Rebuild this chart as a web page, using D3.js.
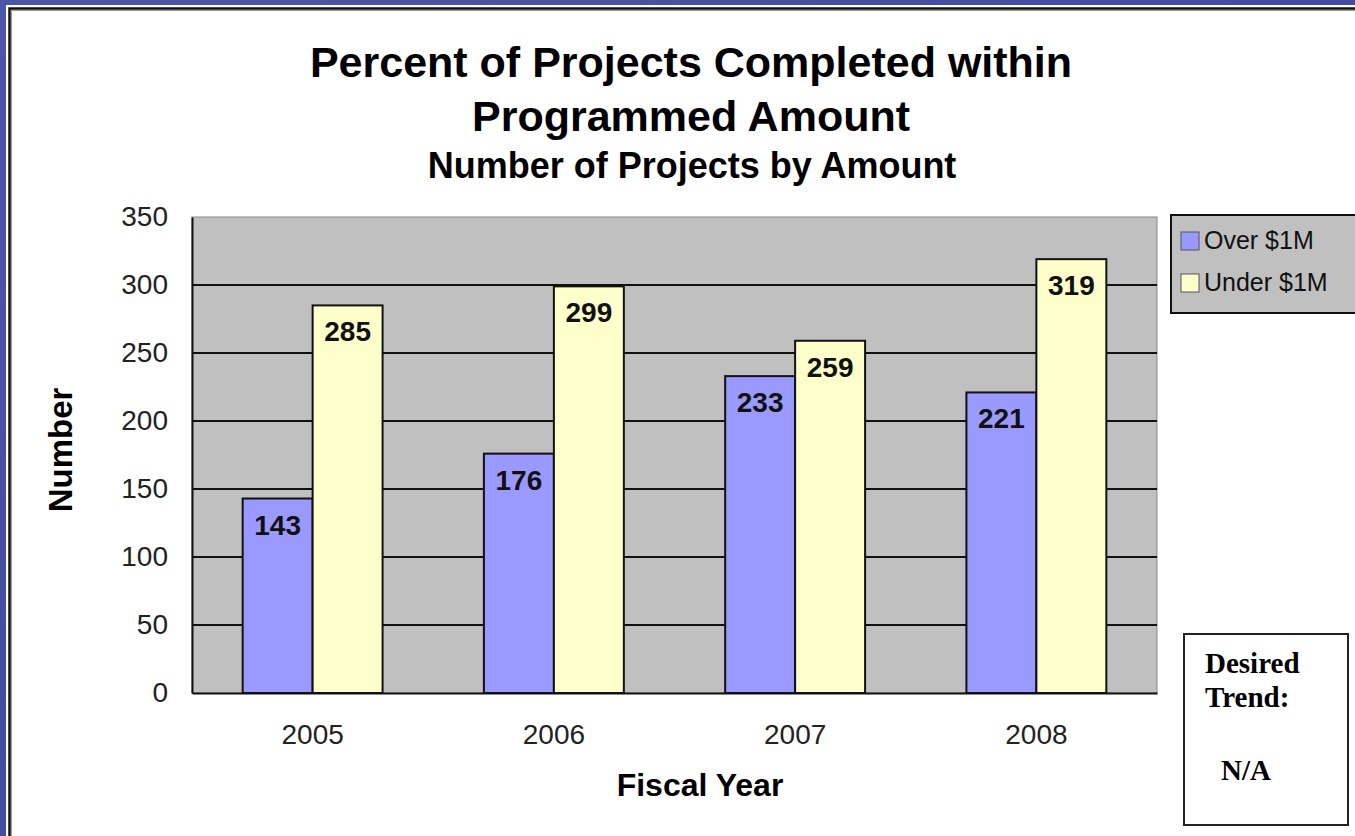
<!DOCTYPE html>
<html>
<head>
<meta charset="utf-8">
<script src="https://cdn.jsdelivr.net/npm/d3@7"></script>
<style>
  body { margin: 0; background: #fff; }
  svg { display: block; }
</style>
</head>
<body>
<div id="chart"></div>
<script>

var years = ['2005', '2006', '2007', '2008'];
var seriesNames = ['Over $1M', 'Under $1M'];
var overValues = [143, 176, 233, 221];
var underValues = [285, 299, 259, 319];
var yTicks = [0, 50, 100, 150, 200, 250, 300, 350];

var colors = ['#9999ff', '#ffffcc'];

var widthCont = 1355,
    heightCont = 836;

var margin = {top: 217, right: 198, bottom: 143, left: 192},
    width = widthCont - margin.left - margin.right,
    height = heightCont - margin.top - margin.bottom;

var sans = '"Liberation Sans", Arial, sans-serif',
    serif = '"Liberation Serif", "Times New Roman", serif';

var svg = d3.select('#chart').append('svg')
  .attr('width', widthCont)
  .attr('height', heightCont);

// Blue frame round the slide
var grad = svg.append('defs').append('linearGradient')
  .attr('id', 'frameGrad')
  .attr('x1', '0%').attr('y1', '0%').attr('x2', '100%').attr('y2', '100%');
grad.append('stop').attr('offset', '0%').attr('stop-color', '#4c55a8');
grad.append('stop').attr('offset', '100%').attr('stop-color', '#3a4499');

svg.append('rect')
  .attr('width', widthCont).attr('height', heightCont)
  .attr('fill', 'url(#frameGrad)');
svg.append('rect')
  .attr('x', 6).attr('y', 5)
  .attr('width', widthCont).attr('height', heightCont)
  .attr('fill', '#fff');
svg.append('path')
  .attr('d', 'M9.5,' + heightCont + ' V8.5 H' + widthCont)
  .attr('fill', 'none').attr('stroke', '#111').attr('stroke-width', 2.5);
svg.append('path')
  .attr('d', 'M11.5,' + heightCont + ' V10.5 H' + widthCont)
  .attr('fill', 'none').attr('stroke', '#999').attr('stroke-width', 1);

// Titles
svg.append('text')
  .attr('x', 691).attr('y', 77)
  .attr('text-anchor', 'middle')
  .style('font', 'bold 43px ' + sans)
  .text('Percent of Projects Completed within');
svg.append('text')
  .attr('x', 691).attr('y', 131)
  .attr('text-anchor', 'middle')
  .style('font', 'bold 43px ' + sans)
  .text('Programmed Amount');
svg.append('text')
  .attr('x', 692).attr('y', 178)
  .attr('text-anchor', 'middle')
  .style('font', 'bold 36px ' + sans)
  .text('Number of Projects by Amount');

var g = svg.append('g')
  .attr('transform', 'translate(' + margin.left + ',' + margin.top + ')');

var x = d3.scaleBand()
  .domain(years)
  .range([0, width])
  .paddingInner(0.42)
  .paddingOuter(0.21);

var xs = d3.scaleBand()
  .domain(seriesNames)
  .range([0, x.bandwidth()]);

var y = d3.scaleLinear()
  .domain([0, 350])
  .range([height, 0]);

// Plot area
g.append('rect')
  .attr('width', width).attr('height', height)
  .attr('fill', '#c0c0c0')
  .attr('stroke', '#8a8a8a').attr('stroke-width', 1);

// Gridlines
g.selectAll('.grid')
  .data(yTicks.filter(function(d){ return d > 0 && d < 350; }))
  .enter().append('line')
  .attr('x1', 0).attr('x2', width)
  .attr('y1', function(d){ return y(d); })
  .attr('y2', function(d){ return y(d); })
  .attr('stroke', '#111').attr('stroke-width', 2);

// Bars
var data = years.map(function(yr, i){
  return {year: yr, values: [
    {name: seriesNames[0], value: overValues[i], color: colors[0]},
    {name: seriesNames[1], value: underValues[i], color: colors[1]}
  ]};
});

var groups = g.selectAll('.year')
  .data(data)
  .enter().append('g')
  .attr('transform', function(d){ return 'translate(' + x(d.year) + ',0)'; });

groups.selectAll('rect')
  .data(function(d){ return d.values; })
  .enter().append('rect')
  .attr('x', function(d){ return xs(d.name); })
  .attr('y', function(d){ return y(d.value); })
  .attr('width', xs.bandwidth())
  .attr('height', function(d){ return height - y(d.value); })
  .attr('fill', function(d){ return d.color; })
  .attr('stroke', '#111').attr('stroke-width', 2);

groups.selectAll('.val')
  .data(function(d){ return d.values; })
  .enter().append('text')
  .attr('x', function(d){ return xs(d.name) + xs.bandwidth() / 2; })
  .attr('y', function(d){ return y(d.value) + 36; })
  .attr('text-anchor', 'middle')
  .style('font', 'bold 28px ' + sans)
  .style('fill', '#111')
  .text(function(d){ return d.value; });

// Axes
var yAxis = g.append('g')
  .call(d3.axisLeft(y).tickValues(yTicks).tickSize(0).tickPadding(24));
yAxis.select('.domain').attr('stroke', '#111').attr('stroke-width', 2);
yAxis.selectAll('text')
  .style('font', '28px ' + sans)
  .style('fill', '#222');

var xAxis = g.append('g')
  .attr('transform', 'translate(0,' + height + ')')
  .call(d3.axisBottom(x).tickSize(0).tickPadding(31));
xAxis.select('.domain').attr('stroke', '#111').attr('stroke-width', 2);
xAxis.selectAll('text')
  .style('font', '28px ' + sans)
  .style('fill', '#222');

// Axis titles
svg.append('text')
  .attr('x', 700).attr('y', 796)
  .attr('text-anchor', 'middle')
  .style('font', 'bold 32px ' + sans)
  .text('Fiscal Year');
svg.append('text')
  .attr('transform', 'translate(72,450) rotate(-90)')
  .attr('text-anchor', 'middle')
  .style('font', 'bold 33px ' + sans)
  .text('Number');

// Legend
var legend = svg.append('g').attr('transform', 'translate(1171,215)');
legend.append('rect')
  .attr('width', 200).attr('height', 98)
  .attr('fill', '#c0c0c0')
  .attr('stroke', '#111').attr('stroke-width', 2);
var li = legend.selectAll('.item')
  .data(seriesNames)
  .enter().append('g')
  .attr('transform', function(d, i){ return 'translate(10,' + (17 + i * 42) + ')'; });
li.append('rect')
  .attr('width', 18).attr('height', 18)
  .attr('fill', function(d, i){ return colors[i]; })
  .attr('stroke', '#555').attr('stroke-width', 1);
li.append('text')
  .attr('x', 23).attr('y', 17)
  .style('font', '25px ' + sans)
  .style('fill', '#111')
  .text(function(d){ return d; });

// Desired trend box
var trend = svg.append('g').attr('transform', 'translate(1184,634)');
trend.append('rect')
  .attr('width', 164).attr('height', 191)
  .attr('fill', '#fff')
  .attr('stroke', '#222').attr('stroke-width', 2);
trend.append('text')
  .attr('x', 21).attr('y', 39)
  .style('font', 'bold 29px ' + serif)
  .text('Desired');
trend.append('text')
  .attr('x', 21).attr('y', 73)
  .style('font', 'bold 29px ' + serif)
  .text('Trend:');
trend.append('text')
  .attr('x', 37).attr('y', 146)
  .style('font', 'bold 29px ' + serif)
  .text('N/A');

</script>
</body>
</html>
